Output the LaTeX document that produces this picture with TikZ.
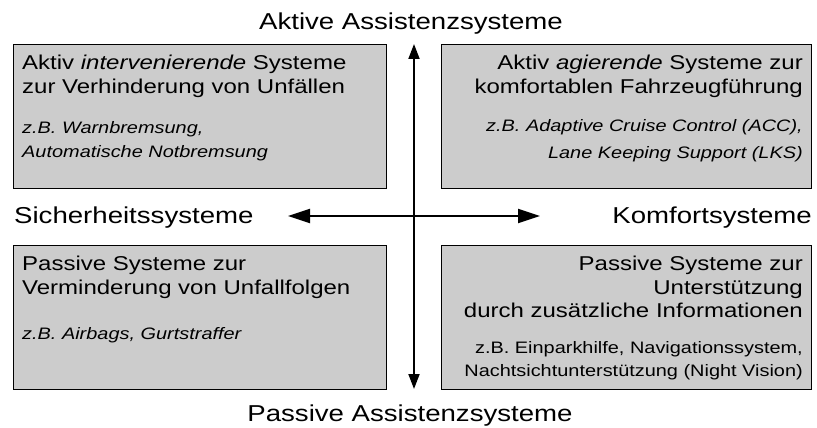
\documentclass[tikz,border=0pt]{standalone}
\usepackage{fontspec}
\setmainfont{Liberation Sans}[FakeStretch=1.2]
\usetikzlibrary{positioning, arrows.meta}
\definecolor{boxgray}{RGB}{204, 204, 204}

\newcommand{\headfont}{\fontsize{20}{23.5}\selectfont}
\newcommand{\examplefont}{\fontsize{16.6}{21}\selectfont}
\newcommand{\axisfont}{\fontsize{23}{27}\selectfont}

\begin{document}
\begin{tikzpicture}[x=1pt, y=-1pt, >={Triangle[length=22pt, width=14pt]},
    quadrant/.style={draw, fill=boxgray, line width=0.9pt, minimum height=144pt, inner sep=0pt},
    boxtext/.style={font=\headfont, inner sep=0pt},
    axislabel/.style={font=\axisfont, inner sep=0pt}]
  \useasboundingbox (0,0) rectangle (817,428);

  % Quadrant boxes
  \node[quadrant, minimum width=373pt, anchor=north west] (safeact) at (13,44) {};
  \node[quadrant, minimum width=370pt, anchor=north east] (comfact) at (812,44) {};
  \node[quadrant, minimum width=373pt, anchor=north west] (safepas) at (13,245) {};
  \node[quadrant, minimum width=370pt, anchor=north east] (comfpas) at (812,245) {};

  % Left column: safety systems
  \node[boxtext, align=left, anchor=north west] (safeacttext)
        at ([xshift=9pt, yshift=-11pt]safeact.north west)
        {Aktiv \textit{intervenierende} Systeme\\zur Verhinderung von Unfällen\\[17pt]
         \examplefont\itshape z.B. Warnbremsung,\\
         \examplefont\itshape Automatische Notbremsung};
  \node[boxtext, align=left, anchor=north west] (safepastext)
        at ([xshift=9pt, yshift=-11pt]safepas.north west)
        {Passive Systeme zur\\Verminderung von Unfallfolgen\\[22pt]
         \examplefont\itshape z.B. Airbags, Gurtstraffer};

  % Right column: comfort systems
  \node[boxtext, align=right, anchor=north east] (comfacttext)
        at ([xshift=-9pt, yshift=-11pt]comfact.north east)
        {Aktiv \textit{agierende} Systeme zur\\komfortablen Fahrzeugführung\\[15pt]
         \examplefont\itshape z.B. Adaptive Cruise Control (ACC),\\[3pt]
         \examplefont\itshape Lane Keeping Support (LKS)};
  \node[boxtext, align=right, anchor=north east] (comfpastext)
        at ([xshift=-9pt, yshift=-11pt]comfpas.north east)
        {Passive Systeme zur\\Unterstützung\\durch zusätzliche Informationen\\[12pt]
         \examplefont z.B. Einparkhilfe, Navigationssystem,\\
         \examplefont Nachtsichtunterstützung (Night Vision)};

  % Axes and their labels
  \node[axislabel, anchor=base] (active) at (411,30) {Aktive Assistenzsysteme};
  \node[axislabel, anchor=base] (passive) at (410,421) {Passive Assistenzsysteme};
  \node[axislabel, anchor=base west] (safety) at (14,223) {Sicherheitssysteme};
  \node[axislabel, anchor=base east] (comfort) at (812,223) {Komfortsysteme};

  \coordinate (top) at (414,44);
  \coordinate (bottom) at (414,389);
  \coordinate (left) at (288,216);
  \coordinate (right) at (540,216);
  \draw[<->, line width=1.8pt, >={Triangle[length=15pt, width=11pt]}] (bottom) -- (top);
  \draw[<->, line width=1.8pt] (left) -- (right);
\end{tikzpicture}
\end{document}
